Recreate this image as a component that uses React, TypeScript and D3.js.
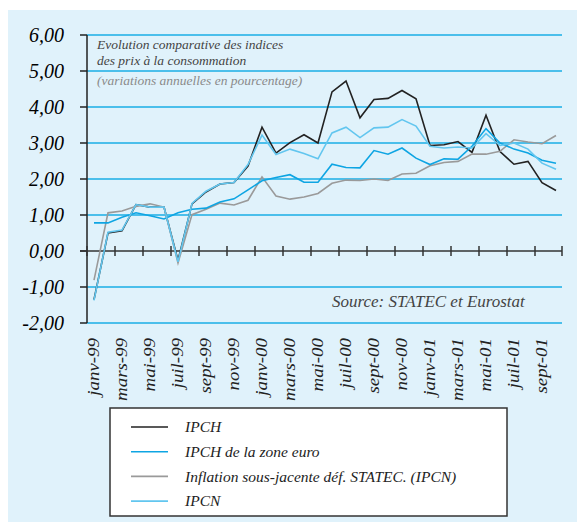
import * as d3 from "d3";

const categories = [
  "janv-99", "févr-99", "mars-99", "avr-99", "mai-99", "juin-99", "juil-99", "août-99", "sept-99", "oct-99", "nov-99", "déc-99",
  "janv-00", "févr-00", "mars-00", "avr-00", "mai-00", "juin-00", "juil-00", "août-00", "sept-00", "oct-00", "nov-00", "déc-00",
  "janv-01", "févr-01", "mars-01", "avr-01", "mai-01", "juin-01", "juil-01", "août-01", "sept-01", "oct-01",
];

const ipch = [
  -1.35, 0.5, 0.56, 1.29, 1.22, 1.22, -0.26, 1.31, 1.64, 1.86, 1.9, 2.36,
  3.44, 2.72, 3.01, 3.23, 3.0, 4.42, 4.72, 3.7, 4.21, 4.24, 4.46, 4.23,
  2.93, 2.95, 3.04, 2.74, 3.77, 2.76, 2.41, 2.49, 1.9, 1.68,
];
const ipchEuro = [
  0.78, 0.78, 0.94, 1.06, 0.98, 0.89, 1.06, 1.16, 1.19, 1.36, 1.45, 1.7,
  1.95, 2.04, 2.12, 1.91, 1.91, 2.41, 2.32, 2.31, 2.79, 2.69, 2.86, 2.58,
  2.4, 2.56, 2.55, 2.91, 3.4, 3.0, 2.83, 2.72, 2.52, 2.44,
];
const sousJacente = [
  -0.81, 1.06, 1.11, 1.24, 1.31, 1.22, -0.33, 1.01, 1.16, 1.33, 1.28, 1.41,
  2.06, 1.53, 1.44, 1.5, 1.6, 1.88, 1.97, 1.96, 2.0, 1.96, 2.14, 2.16,
  2.37, 2.46, 2.49, 2.69, 2.69, 2.77, 3.09, 3.03, 2.98, 3.21,
];
const ipcn = [
  -1.37, 0.52, 0.58, 1.29, 1.22, 1.22, -0.3, 1.32, 1.66, 1.86, 1.9, 2.4,
  3.22, 2.68, 2.83, 2.71, 2.56, 3.28, 3.44, 3.15, 3.42, 3.44, 3.65, 3.47,
  2.91, 2.86, 2.89, 2.86, 3.26, 2.93, 3.0, 2.83, 2.44, 2.27,
];

const yTicks = [-2, -1, 0, 1, 2, 3, 4, 5, 6];

const series = [
  { label: "IPCH", values: ipch, color: "#222222" },
  { label: "Inflation sous-jacente déf. STATEC. (IPCN)", values: sousJacente, color: "#9a9a9a" },
  { label: "IPCH de la zone euro", values: ipchEuro, color: "#0ea5e3" },
  { label: "IPCN", values: ipcn, color: "#62c6ef" },
];
const legendOrder = [0, 2, 1, 3];

const W = 577;
const H = 522;
// italic serif everywhere, as in the original
const serif: React.CSSProperties = {
  fontFamily: '"Liberation Serif", "Times New Roman", serif',
  fontStyle: "italic",
};

export default function App() {
  const x = d3.scaleBand<string>().domain(categories).range([87, 563]);
  const y = d3.scaleLinear().domain([-2, 6]).range([323, 35]);
  const cx = (c: string) => (x(c) ?? 0) + x.bandwidth() / 2;

  const line = d3
    .line<number>()
    .x((_, i) => cx(categories[i]))
    .y((d) => y(d));

  const tickCats = categories.filter((_, i) => i % 2 === 0);
  const x0 = x.range()[0];
  const x1 = x.range()[1] - 1;

  return (
    <div style={{ position: "absolute", left: 0, top: 0 }}>
      <svg width={W} height={H} style={{ display: "block" }}>
        <rect x={0} y={0} width={W} height={H} fill="#ffffff" />
        <rect x={8} y={10} width={W - 8} height={H - 10} fill="#e0f2fb" />

        {/* gridlines */}
        {yTicks.filter((t) => t !== 0).map((t) => (
          <line key={t} x1={x0} x2={x1} y1={y(t)} y2={y(t)} stroke="#1aaee6" strokeWidth={1.6} />
        ))}

        {/* y axis */}
        <line x1={x0} x2={x0} y1={y(6)} y2={y(-2)} stroke="#222" strokeWidth={1.5} />
        {yTicks.map((t) => (
          <g key={t}>
            <line x1={x0 - 7} x2={x0} y1={y(t)} y2={y(t)} stroke="#222" strokeWidth={1.5} />
            <text x={64} y={y(t)} dy="0.36em" textAnchor="end" style={{ ...serif, fontSize: 20 }} fill="#000">
              {t.toFixed(2).replace(".", ",")}
            </text>
          </g>
        ))}

        {/* zero axis with ticks */}
        <line x1={x0 - 7} x2={x1} y1={y(0)} y2={y(0)} stroke="#333" strokeWidth={1.5} />
        {[...tickCats, null].map((c, i) => {
          const tx = c === null ? x1 : x(c) ?? 0;
          return <line key={i} x1={tx} x2={tx} y1={y(0) - 5} y2={y(0) + 5} stroke="#333" strokeWidth={1.5} />;
        })}

        {/* x labels */}
        {tickCats.map((c) => (
          <text
            key={c}
            transform={`translate(${cx(c)},338) rotate(-90) scale(1.18,1)`}
            dy="0.33em"
            textAnchor="end"
            style={{ ...serif, fontSize: 16 }}
            fill="#222"
          >
            {c}
          </text>
        ))}

        {/* series */}
        {series.map((s) => (
          <path key={s.label} d={line(s.values) ?? ""} fill="none" stroke={s.color} strokeWidth={1.6} />
        ))}

        {/* title */}
        <g style={{ ...serif, fontSize: 13.5 }}>
          <text x={97} y={49} fill="#444">Evolution comparative des indices</text>
          <text x={97} y={65} fill="#444">des prix à la consommation</text>
          <text x={97} y={85} fill="#8a8a8a">(variations annuelles en pourcentage)</text>
        </g>

        <text x={332} y={307} style={{ ...serif, fontSize: 17 }} fill="#444">
          Source: STATEC et Eurostat
        </text>

        {/* legend */}
        <rect x={110} y={408} width={397} height={108} fill="#ffffff" stroke="#333" strokeWidth={1.5} />
        {legendOrder.map((si, i) => {
          const s = series[si];
          const ly = 427 + i * 24.7;
          return (
            <g key={s.label}>
              <line x1={131} x2={168} y1={ly} y2={ly} stroke={s.color} strokeWidth={1.6} />
              <text x={185} y={ly} dy="0.33em" style={{ ...serif, fontSize: 15.5 }} fill="#222">
                {s.label}
              </text>
            </g>
          );
        })}
      </svg>
    </div>
  );
}
